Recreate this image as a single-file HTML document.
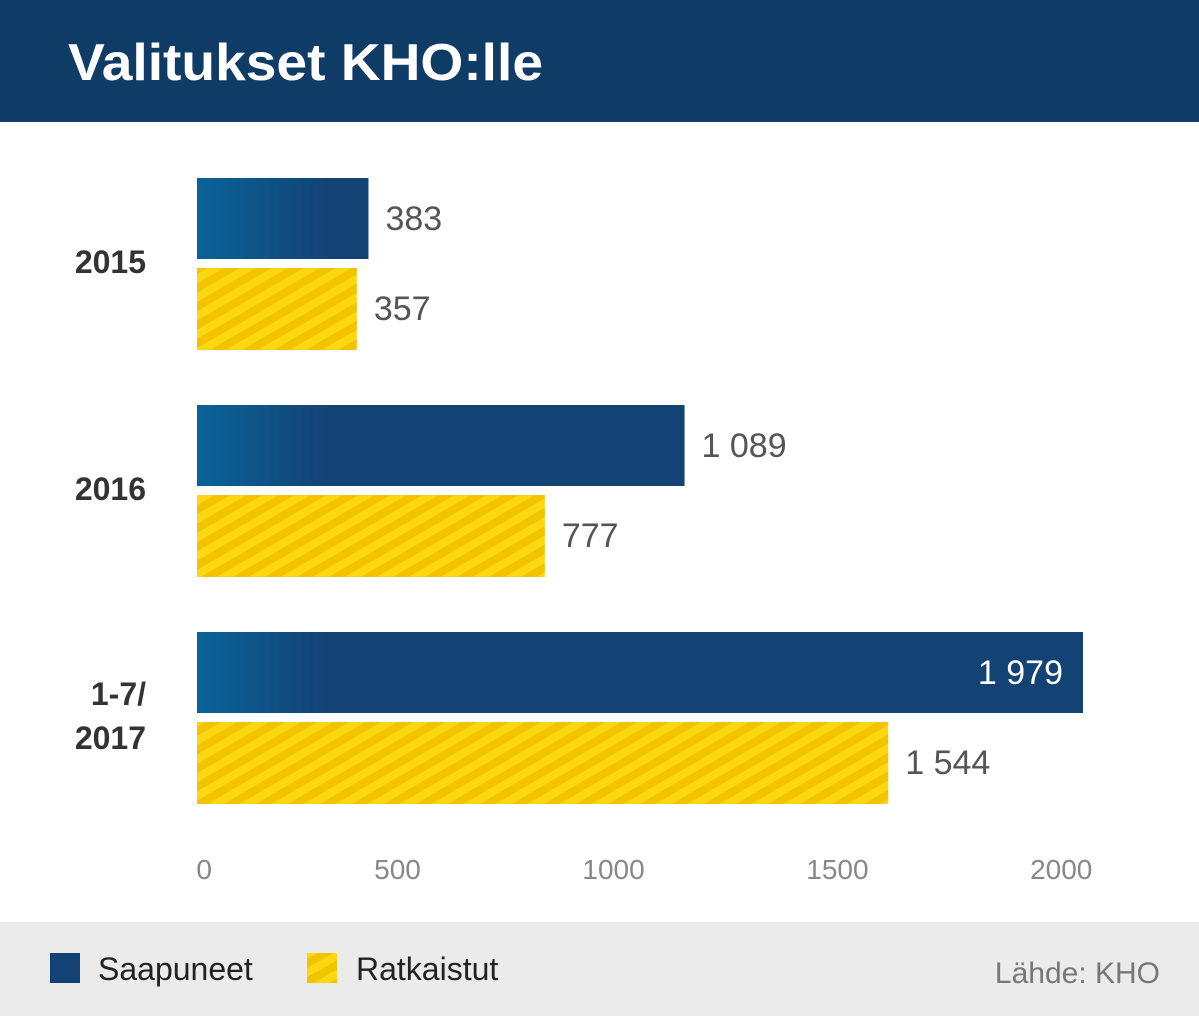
<!DOCTYPE html>
<html><head><meta charset="utf-8"><style>
body{margin:0;width:1199px;height:1016px;background:#fff;overflow:hidden;font-family:"Liberation Sans",sans-serif}
svg{display:block}
</style></head><body>
<svg id="c" width="1199" height="1016">
<defs>
<linearGradient id="bg" gradientUnits="userSpaceOnUse" x1="197" x2="330" y1="0" y2="0">
<stop offset="0" stop-color="#0a6398"/><stop offset="1" stop-color="#134274"/></linearGradient>
<pattern id="st" width="16" height="16" patternUnits="userSpaceOnUse" patternTransform="rotate(-30)">
<rect width="16" height="16" fill="#f3c300"/><rect width="16" height="8" fill="#fbd811"/></pattern>
</defs>
<rect x="0" y="0" width="1199" height="122" fill="#0f3b67"/>
<text x="68" y="80" font-size="52" font-weight="bold" fill="#fff" textLength="475" lengthAdjust="spacingAndGlyphs">Valitukset KHO:lle</text>
<g id="bars"></g>
<g id="ticks"></g>
<rect x="0" y="922" width="1199" height="94" fill="#ebebeb"/>
<rect x="50" y="953" width="30" height="30" fill="#134274"/>
<text x="98" y="980" font-size="32" fill="#222">Saapuneet</text>
<rect x="307" y="953" width="30" height="30" fill="url(#st)"/>
<text x="356" y="980" font-size="32" fill="#222">Ratkaistut</text>
<text x="1160" y="983" font-size="30" fill="#777" text-anchor="end">Lähde: KHO</text>
</svg>
<script>
const categories=[["2015"],["2016"],["1-7/","2017"]];
const saapuneet=[383,1089,1979];
const ratkaistut=[357,777,1544];
const tickValues=[0,500,1000,1500,2000];
const tickLabels=["0","500","1000","1500","2000"];
const NS="http://www.w3.org/2000/svg";
const x=v=>197+v*0.4477;
const band=i=>178+i*227;
function mk(tag,attrs,parent){const e=document.createElementNS(NS,tag);for(const k in attrs)e.setAttribute(k,attrs[k]);parent.appendChild(e);return e;}
const fmt=v=>v>=1000?String(v).replace(/^(\d)/,'$1 '):String(v);
const gb=document.getElementById('bars');
categories.forEach((c,i)=>{
 const y0=band(i);
 const b1=mk('rect',{x:197,y:y0,width:x(saapuneet[i])-197,height:81,fill:'url(#bg)'},gb);
 
 
 const b2=mk('rect',{x:197,y:y0+90,width:x(ratkaistut[i])-197,height:82,fill:'url(#st)'},gb);
 
 
 const inside=x(saapuneet[i])>1000;
 const t1=mk('text',{x:inside?x(saapuneet[i])-20:x(saapuneet[i])+17,y:y0+52,'font-size':34,fill:inside?'#fff':'#555','text-anchor':inside?'end':'start'},gb);
 t1.textContent=fmt(saapuneet[i]);
 
 
 const t2=mk('text',{x:x(ratkaistut[i])+17,y:y0+142,'font-size':34,fill:'#555'},gb);
 t2.textContent=fmt(ratkaistut[i]);
 
 
 const mid=y0+83, n=c.length;
 c.forEach((line,j)=>{
  const t=mk('text',{x:146,y:mid+12+(j-(n-1)/2)*44,'font-size':32,'font-weight':'bold',fill:'#333','text-anchor':'end'},gb);
  t.textContent=line;
  
  
 });
});
const gt=document.getElementById('ticks');
tickValues.forEach((v,i)=>{
 const t=mk('text',{x:x(v)+(v===0?15:0),y:879,'font-size':28,fill:'#888','text-anchor':'end'},gt);
 t.textContent=tickLabels[i];
 
 
});
</script>
</body></html>
